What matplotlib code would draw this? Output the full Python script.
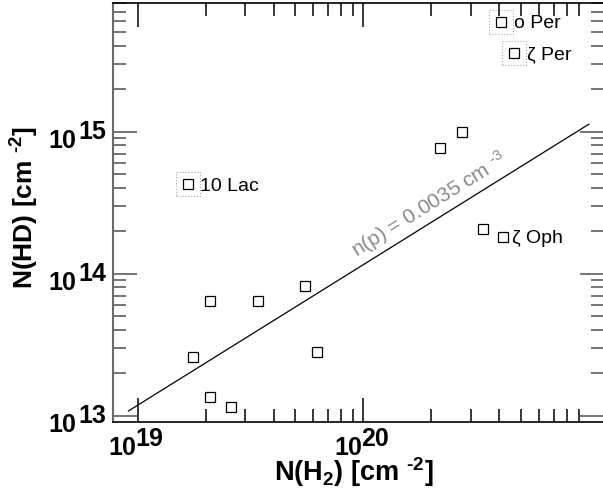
import math

import matplotlib
matplotlib.use("Agg")
import matplotlib.pyplot as plt
from matplotlib.ticker import FixedLocator, NullFormatter

plt.rcParams["font.family"] = ["Liberation Sans", "DejaVu Sans"]

# column densities, cm^-2
n_h2 = [1.67e19, 4.08e20, 4.67e20, 2.75e20, 2.19e20, 3.38e20, 4.16e20,
        2.10e19, 3.40e19, 1.75e19, 2.10e19, 2.58e19, 5.51e19, 6.21e19]
n_hd = [4.26e14, 5.95e15, 3.60e15, 9.90e14, 7.70e14, 2.07e14, 1.82e14,
        6.45e13, 6.45e13, 2.58e13, 1.35e13, 1.16e13, 8.20e13, 2.82e13]
star_names = ["10 Lac", "ο Per", "ζ Per", "", "", "", "ζ Oph",
              "", "", "", "", "", "", ""]
boxed = ["10 Lac", "ο Per", "ζ Per"]

# constant density line
fit_x = [9.1e18, 1.0e21]
fit_y = [1.08e13, 1.13e15]
fit_text = "n(p) = 0.0035 cm $\\mathregular{^{\u20103}}$"
fit_text_x = 2.13e20

x_major = [1e19, 1e20]
x_powers = [19, 20]
y_major = [1e13, 1e14, 1e15]
y_powers = [13, 14, 15]

GREY_AXIS = "#6a6a6a"
tick_font = dict(fontsize=18, fontweight="bold")


def _minor(decades):
    return [k * 10.0 ** d for d in decades for k in range(2, 10)]


def _tick_labels(ax):
    for v, p in zip(x_major, x_powers):
        ax.annotate("10", xy=(v, 0), xycoords=("data", "axes fraction"),
                    xytext=(-1.5, -32.5), textcoords="offset pixels",
                    ha="right", va="baseline", **tick_font)
        ax.annotate(str(p), xy=(v, 0), xycoords=("data", "axes fraction"),
                    xytext=(-2, -23.2), textcoords="offset pixels",
                    ha="left", va="baseline", **tick_font)
    for v, p in zip(y_major, y_powers):
        ax.annotate("10", xy=(0, v), xycoords=("axes fraction", "data"),
                    xytext=(-36, -16), textcoords="offset pixels",
                    ha="right", va="baseline", **tick_font)
        ax.annotate(str(p), xy=(0, v), xycoords=("axes fraction", "data"),
                    xytext=(-6.7, -7), textcoords="offset pixels",
                    ha="right", va="baseline", **tick_font)


def make_plot():
    fig = plt.figure(figsize=(6.03, 4.95), dpi=100)
    ax = fig.add_axes([112.7 / 603, 72.7 / 495, 491.3 / 603, 419.6 / 495])
    ax.set_xscale("log")
    ax.set_yscale("log")
    ax.set_xlim(10 ** 18.8892, 10 ** 21.0669)
    ax.set_ylim(10 ** 12.9535, 10 ** 15.9085)

    ax.xaxis.set_major_locator(FixedLocator(x_major))
    ax.xaxis.set_minor_locator(FixedLocator(_minor([19, 20])))
    ax.yaxis.set_major_locator(FixedLocator(y_major))
    ax.yaxis.set_minor_locator(FixedLocator(_minor([13, 14, 15])))
    for axis in (ax.xaxis, ax.yaxis):
        axis.set_major_formatter(NullFormatter())
        axis.set_minor_formatter(NullFormatter())

    ax.tick_params(which="both", direction="in", top=True, right=True, width=1.1)
    ax.tick_params(which="major", length=17.3)
    ax.tick_params(which="minor", length=9.7)
    ax.tick_params(axis="x", which="both", color="black")
    ax.tick_params(axis="y", which="both", color="#505050")
    for side in ("left", "right"):
        ax.spines[side].set_color(GREY_AXIS)
        ax.spines[side].set_linewidth(1.5)
    for side in ("top", "bottom"):
        ax.spines[side].set_color("black")
        ax.spines[side].set_linewidth(1.2)

    ax.plot(fit_x, fit_y, color="black", lw=0.9)

    ax.plot(n_h2, n_hd, ls="none", marker="s", ms=6.6, mfc="white",
            mec="black", mew=0.9)

    bx = [x for x, n in zip(n_h2, star_names) if n in boxed]
    by = [y for y, n in zip(n_hd, star_names) if n in boxed]
    ax.scatter(bx, by, s=17.5 ** 2, marker="s", facecolors="none",
               edgecolors="#a8a8a8", linewidths=0.8, linestyles=":")

    label_dx = {"10 Lac": 12, "ο Per": 13, "ζ Per": 12.5, "ζ Oph": 9}
    for x, y, name in zip(n_h2, n_hd, star_names):
        if not name:
            continue
        ax.annotate(name, xy=(x, y), xytext=(label_dx[name], -6.5),
                    textcoords="offset pixels", ha="left", va="baseline",
                    fontsize=14)

    # rotate the density label along the line
    p0 = ax.transData.transform((fit_x[0], fit_y[0]))
    p1 = ax.transData.transform((fit_x[1], fit_y[1]))
    ang = math.atan2(p1[1] - p0[1], p1[0] - p0[0])
    t = (math.log10(fit_text_x) - math.log10(fit_x[0])) / (math.log10(fit_x[1]) - math.log10(fit_x[0]))
    ty = 10 ** (math.log10(fit_y[0]) + t * (math.log10(fit_y[1]) - math.log10(fit_y[0])))
    ax.annotate(fit_text, xy=(fit_text_x, ty),
                xytext=(-10 * math.sin(ang), 10 * math.cos(ang)),
                textcoords="offset pixels", ha="center", va="baseline",
                rotation=math.degrees(ang), rotation_mode="anchor",
                fontsize=15, color="#8a8a8a")

    _tick_labels(ax)

    fig.text(354 / 603, 1 - 481 / 495,
             "N(H$\\mathregular{_2}$) [cm $\\mathregular{^{\u20102}}$]",
             ha="center", va="baseline", fontsize=19.5, fontweight="bold")
    fig.text(33.3 / 603, 1 - 207.5 / 495,
             "N(HD) [cm $\\mathregular{^{\u20102}}$]",
             ha="center", va="baseline", rotation=90, rotation_mode="anchor",
             fontsize=19, fontweight="bold")

    fig.savefig("out.png", dpi=100)


if __name__ == "__main__":
    make_plot()
